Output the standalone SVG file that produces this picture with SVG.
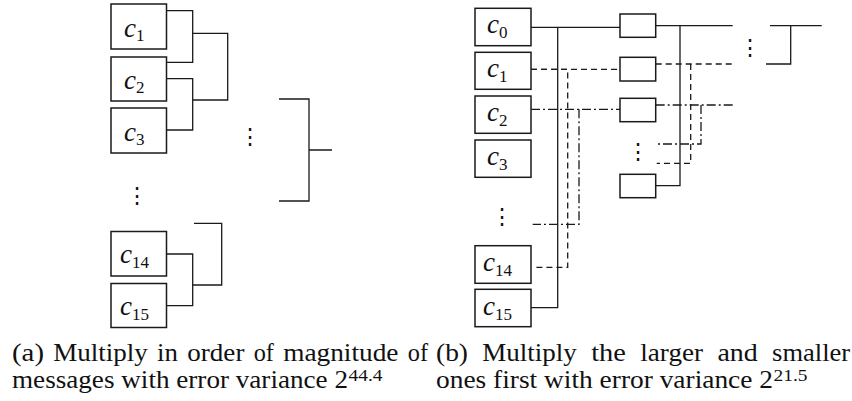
<svg xmlns="http://www.w3.org/2000/svg" width="852" height="401" viewBox="0 0 852 401">
<style>
.box{fill:#fff;stroke:#1a1a1a;stroke-width:1.5}
.ln{fill:none;stroke:#1a1a1a;stroke-width:1.3}
.dash{stroke-dasharray:6 4}
.dd{stroke-dasharray:9 3 2 3}
.c{font-family:"Liberation Serif",serif;font-style:italic;font-size:27px;fill:#111}
.sub{font-family:"Liberation Serif",serif;font-style:normal;font-size:17px}
.cap{font-family:"Liberation Serif",serif;font-size:25px;fill:#111}
.sup{font-family:"Liberation Serif",serif;font-size:16px;fill:#111}
.dots{font-family:"Liberation Serif",serif;font-size:22px;fill:#111}
</style>
<rect width="852" height="401" fill="#fff"/>
<!-- (a) nodes -->
<g id="a_c1"><rect class="box" x="111" y="4" width="55.5" height="45"/><text class="c" x="124" y="37">c<tspan class="sub" dy="4">1</tspan></text></g>
<g id="a_c2"><rect class="box" x="111" y="57" width="55.5" height="44"/><text class="c" x="124" y="89">c<tspan class="sub" dy="4">2</tspan></text></g>
<g id="a_c3"><rect class="box" x="111" y="108" width="55.5" height="45"/><text class="c" x="124" y="141">c<tspan class="sub" dy="4">3</tspan></text></g>
<g id="a_c14"><rect class="box" x="111" y="231.5" width="55.5" height="44.5"/><text class="c" x="120" y="263">c<tspan class="sub" dy="5">14</tspan></text></g>
<g id="a_c15"><rect class="box" x="111" y="283.5" width="55.5" height="44"/><text class="c" x="120" y="315">c<tspan class="sub" dy="5">15</tspan></text></g>
<!-- (b) nodes -->
<g id="b_c0"><rect class="box" x="475" y="8.3" width="56" height="37.4"/><text class="c" x="487" y="33">c<tspan class="sub" dy="5">0</tspan></text></g>
<g id="b_c1"><rect class="box" x="475" y="52.3" width="56" height="37"/><text class="c" x="487" y="77">c<tspan class="sub" dy="5">1</tspan></text></g>
<g id="b_c2"><rect class="box" x="475" y="96" width="56" height="37.3"/><text class="c" x="487" y="121">c<tspan class="sub" dy="5">2</tspan></text></g>
<g id="b_c3"><rect class="box" x="475" y="140" width="56" height="37.3"/><text class="c" x="487" y="165">c<tspan class="sub" dy="5">3</tspan></text></g>
<g id="b_c14"><rect class="box" x="475" y="245.7" width="56" height="37.6"/><text class="c" x="483" y="271">c<tspan class="sub" dy="5">14</tspan></text></g>
<g id="b_c15"><rect class="box" x="475" y="289.3" width="56" height="37.4"/><text class="c" x="483" y="315">c<tspan class="sub" dy="5">15</tspan></text></g>
<g id="b_m1"><rect class="box" x="620" y="14" width="35.7" height="23.3"/></g>
<g id="b_m2"><rect class="box" x="620" y="57.3" width="35.7" height="23.7"/></g>
<g id="b_m3"><rect class="box" x="620" y="98.3" width="35.7" height="23.4"/></g>
<g id="b_m4"><rect class="box" x="620" y="174.3" width="35.7" height="23.4"/></g>
<!-- ellipses -->
<g id="dots">
<text class="dots" x="250" y="144" text-anchor="middle">⋮</text>
<text class="dots" x="137" y="203" text-anchor="middle">⋮</text>
<text class="dots" x="502" y="224" text-anchor="middle">⋮</text>
<text class="dots" x="638" y="159" text-anchor="middle">⋮</text>
<text class="dots" x="750" y="55" text-anchor="middle">⋮</text>
</g>
<!-- connectors -->
<g id="connectors">
<path class="ln" d="M166.5 10.7H192.7V62.3H166.5"/>
<path class="ln" d="M166.5 78.7H192.7V130H166.5"/>
<path class="ln" d="M192.7 33.3H227.7V100H192.7"/>
<path class="ln" d="M279 99H309V201H279M309 150H332"/>
<path class="ln" d="M166.5 254H192.7V305.7H166.5"/>
<path class="ln" d="M194 223.3H221.7V285H192.7"/>
<path class="ln" d="M531 27.3H620"/>
<path class="ln" d="M557.7 27.3V307.7H531"/>
<path class="ln dash" d="M531 69.3H620"/>
<path class="ln dash" d="M531 69.3H567.7V267.3H533"/>
<path class="ln dd" d="M531 109.3H620"/>
<path class="ln dd" d="M579 109.3V224.3H532.7"/>
<path class="ln" d="M655.7 25.7H732.7"/>
<path class="ln" d="M680 25.7V185.7H655.7"/>
<path class="ln dash" d="M655.7 64H732.7"/>
<path class="ln dash" d="M690.7 64V163.3H656.7"/>
<path class="ln dd" d="M655.7 105H732.7"/>
<path class="ln dd" d="M701 105V144H655"/>
<path class="ln" d="M770 25.7H821.7M790.7 25.7V64H766"/>
</g>
<!-- captions -->
<g id="caption_a">
<text class="cap" x="12" y="361" textLength="32" lengthAdjust="spacingAndGlyphs">(a)</text>
<text class="cap" x="53.3" y="361" textLength="94.5" lengthAdjust="spacingAndGlyphs">Multiply</text>
<text class="cap" x="157.1" y="361" textLength="20.9" lengthAdjust="spacingAndGlyphs">in</text>
<text class="cap" x="187.3" y="361" textLength="57.1" lengthAdjust="spacingAndGlyphs">order</text>
<text class="cap" x="253.7" y="361" textLength="20.2" lengthAdjust="spacingAndGlyphs">of</text>
<text class="cap" x="283.2" y="361" textLength="115.3" lengthAdjust="spacingAndGlyphs">magnitude</text>
<text class="cap" x="407.8" y="361" textLength="20.2" lengthAdjust="spacingAndGlyphs">of</text>
<text class="cap" x="12" y="388" textLength="336" lengthAdjust="spacingAndGlyphs">messages with error variance 2</text>
<text class="sup" x="348.5" y="381" textLength="34" lengthAdjust="spacingAndGlyphs">44.4</text>
</g>
<g id="caption_b">
<text class="cap" x="436" y="361" textLength="32" lengthAdjust="spacingAndGlyphs">(b)</text>
<text class="cap" x="482.3" y="361" textLength="94.5" lengthAdjust="spacingAndGlyphs">Multiply</text>
<text class="cap" x="591.2" y="361" textLength="34.7" lengthAdjust="spacingAndGlyphs">the</text>
<text class="cap" x="640.3" y="361" textLength="62.7" lengthAdjust="spacingAndGlyphs">larger</text>
<text class="cap" x="717.4" y="361" textLength="40.3" lengthAdjust="spacingAndGlyphs">and</text>
<text class="cap" x="772.1" y="361" textLength="78" lengthAdjust="spacingAndGlyphs">smaller</text>
<text class="cap" x="436" y="388" textLength="337" lengthAdjust="spacingAndGlyphs">ones first with error variance 2</text>
<text class="sup" x="773.5" y="381" textLength="34" lengthAdjust="spacingAndGlyphs">21.5</text>
</g>
</svg>
